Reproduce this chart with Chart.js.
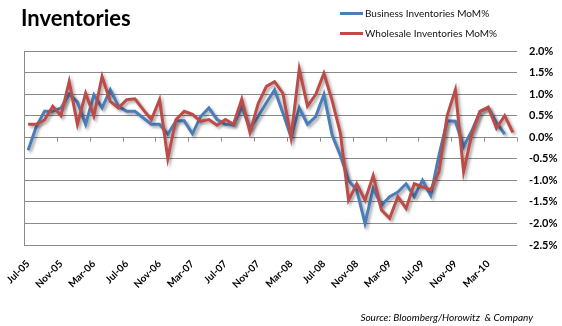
<!DOCTYPE html>
<html>
<head>
<meta charset="utf-8">
<script src="https://cdn.jsdelivr.net/npm/chart.js@4.4.1/dist/chart.umd.min.js"></script>
<style>
  html, body { margin: 0; padding: 0; background: #fff; }
  #wrap { position: relative; width: 562px; height: 326px; overflow: hidden; font-family: Lato, "Open Sans", sans-serif; }
  #c { position: absolute; left: 0; top: 0; }
  #title { position: absolute; left: 21px; top: 4px; font-size: 22px; font-weight: 700; color: #000; }
  .leg { position: absolute; left: 340px; font-size: 10px; color: #111; white-space: nowrap; }
  .leg span.sw { display: inline-block; width: 23px; height: 3px; vertical-align: middle; margin-right: 2px; position: relative; top: -1px; }
  #src { position: absolute; right: 29px; top: 311px; font-size: 10px; font-style: italic; color: #000; white-space: nowrap; }
</style>
</head>
<body>
<div id="wrap">
  <canvas id="c" width="562" height="326"></canvas>
  <div id="title">Inventories</div>
  <div class="leg" style="top:7px"><span class="sw" style="background:#4A7EBB"></span>Business Inventories MoM%</div>
  <div class="leg" style="top:27px"><span class="sw" style="background:#BE4B48"></span>Wholesale Inventories MoM%</div>
  <div id="src">Source: Bloomberg/Horowitz &nbsp;&amp; Company</div>
</div>
<script>
const months = [
  'Jul-05','Aug-05','Sep-05','Oct-05','Nov-05','Dec-05',
  'Jan-06','Feb-06','Mar-06','Apr-06','May-06','Jun-06','Jul-06','Aug-06','Sep-06','Oct-06','Nov-06','Dec-06',
  'Jan-07','Feb-07','Mar-07','Apr-07','May-07','Jun-07','Jul-07','Aug-07','Sep-07','Oct-07','Nov-07','Dec-07',
  'Jan-08','Feb-08','Mar-08','Apr-08','May-08','Jun-08','Jul-08','Aug-08','Sep-08','Oct-08','Nov-08','Dec-08',
  'Jan-09','Feb-09','Mar-09','Apr-09','May-09','Jun-09','Jul-09','Aug-09','Sep-09','Oct-09','Nov-09','Dec-09',
  'Jan-10','Feb-10','Mar-10','Apr-10','May-10','Jun-10'
];

const businessInventories = [
  -0.30, 0.25, 0.60, 0.60, 0.68, 1.00, 0.82, 0.30, 0.98, 0.68, 1.10, 0.72,
  0.60, 0.60, 0.45, 0.30, 0.30, 0.07, 0.38, 0.38, 0.08, 0.48, 0.68, 0.41,
  0.30, 0.28, 0.70, 0.20, 0.48, 0.80, 1.10, 0.57, 0.00, 0.68, 0.30, 0.48,
  0.99, 0.05, -0.42, -1.00, -1.23, -2.00, -1.19, -1.58, -1.38, -1.27, -1.08, -1.38,
  -1.00, -1.35, -0.42, 0.38, 0.37, -0.22, 0.15, 0.60, 0.68, 0.34, 0.07, null
];

const wholesaleInventories = [
  0.30, 0.30, 0.40, 0.72, 0.50, 1.29, 0.30, 1.02, 0.49, 1.41, 0.83, 0.68,
  0.87, 0.89, 0.64, 0.41, 0.87, -0.49, 0.41, 0.60, 0.53, 0.37, 0.41, 0.28,
  0.41, 0.30, 0.88, 0.11, 0.78, 1.18, 1.29, 1.02, 0.00, 1.58, 0.72, 0.99,
  1.48, 0.85, 0.10, -1.46, -1.08, -1.46, -0.89, -1.69, -1.88, -1.38, -1.65, -1.08,
  -1.15, -1.22, -0.80, 0.50, 1.10, -0.80, 0.07, 0.60, 0.70, 0.21, 0.50, 0.11
];

const yTicks = [-2.5, -2.0, -1.5, -1.0, -0.5, 0.0, 0.5, 1.0, 1.5, 2.0];
const labelEvery = 4;

const shadowPlugin = {
  id: 'shadow',
  beforeDatasetDraw(chart) {
    const ctx = chart.ctx;
    ctx.save();
    ctx.shadowColor = 'rgba(0,0,0,0.35)';
    ctx.shadowBlur = 3;
    ctx.shadowOffsetX = 2;
    ctx.shadowOffsetY = 2;
  },
  afterDatasetDraw(chart) {
    chart.ctx.restore();
  }
};

const axisPlugin = {
  id: 'axisDecor',
  beforeDatasetsDraw(chart) {
    const ctx = chart.ctx, ca = chart.chartArea;
    const xs = chart.scales.x, ys = chart.scales.y;
    ctx.save();
    ctx.strokeStyle = '#8a8a8a';
    ctx.lineWidth = 1;
    ctx.beginPath();
    ctx.moveTo(Math.round(ca.left) + 0.5, ca.top);
    ctx.lineTo(Math.round(ca.left) + 0.5, ca.bottom);
    ctx.stroke();
    const y0 = Math.round(ys.getPixelForValue(0)) + 0.5;
    for (let k = 0; k * labelEvery <= months.length; k++) {
      const x = Math.round(xs.getPixelForValue(k * labelEvery - 0.5)) + 0.5;
      ctx.beginPath();
      ctx.moveTo(x, y0);
      ctx.lineTo(x, y0 + 4);
      ctx.stroke();
    }
    ctx.restore();
  }
};

new Chart(document.getElementById('c'), {
  type: 'line',
  data: {
    labels: months,
    datasets: [
      {
        label: 'Business Inventories MoM%',
        data: businessInventories,
        borderColor: '#4A7EBB',
        backgroundColor: '#4A7EBB',
        borderWidth: 3,
        pointRadius: 0,
        tension: 0,
        order: 1
      },
      {
        label: 'Wholesale Inventories MoM%',
        data: wholesaleInventories,
        borderColor: '#BE4B48',
        backgroundColor: '#BE4B48',
        borderWidth: 3,
        pointRadius: 0,
        tension: 0,
        order: 0
      }
    ]
  },
  options: {
    responsive: false,
    devicePixelRatio: 1,
    animation: false,
    layout: { padding: { left: 24, top: 51, right: 0, bottom: 0 } },
    plugins: { legend: { display: false }, tooltip: { enabled: false } },
    scales: {
      x: {
        offset: true,
        grid: { display: false },
        border: { display: false },
        ticks: {
          autoSkip: false,
          maxRotation: 45,
          minRotation: 45,
          padding: 5,
          color: '#000',
          font: { family: 'Lato', size: 10, weight: 'bold' },
          callback: function (v, i) { return i % labelEvery === 0 ? months[i] : null; }
        },
        afterFit: function (s) { s.height = 81; }
      },
      y: {
        position: 'right',
        min: yTicks[0],
        max: yTicks[yTicks.length - 1],
        afterBuildTicks: function (s) { s.ticks = yTicks.map(v => ({ value: v })); },
        grid: { color: '#8a8a8a', lineWidth: 1, drawTicks: false },
        border: { display: false },
        ticks: {
          padding: 12,
          color: '#000',
          font: { family: 'Lato', size: 11, weight: 'bold' },
          callback: function (v) { return Number(v).toFixed(1) + '%'; }
        },
        afterFit: function (s) { s.width = 45; }
      }
    }
  },
  plugins: [axisPlugin, shadowPlugin]
});
</script>
</body>
</html>
